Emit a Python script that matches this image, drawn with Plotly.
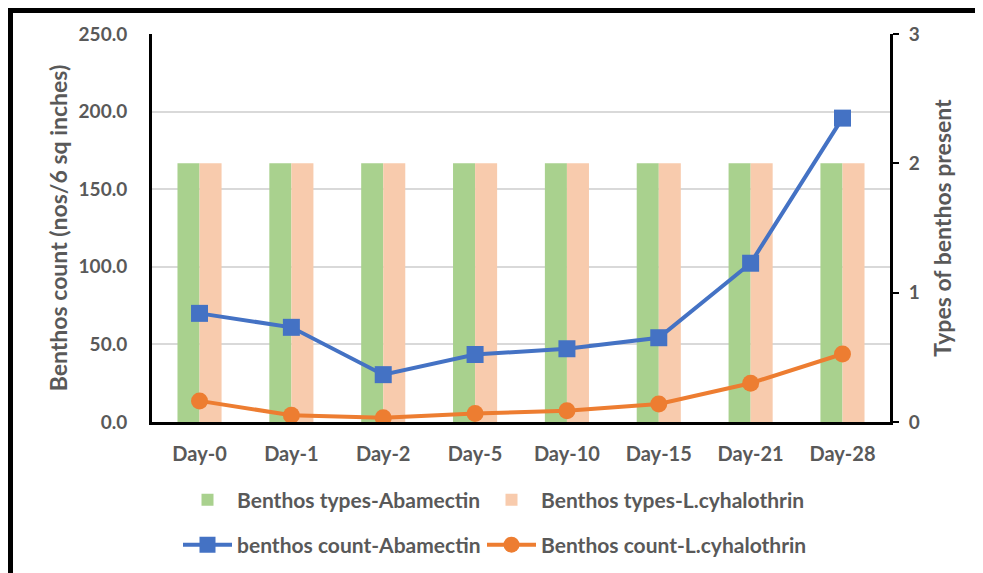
import plotly.graph_objects as go

categories = ["Day-0", "Day-1", "Day-2", "Day-5", "Day-10", "Day-15", "Day-21", "Day-28"]
types_abamectin = [2, 2, 2, 2, 2, 2, 2, 2]
types_lcyhalothrin = [2, 2, 2, 2, 2, 2, 2, 2]
count_abamectin = [70.0, 61.0, 30.5, 43.5, 47.2, 54.3, 102.3, 195.8]
count_lcyhalothrin = [13.6, 4.4, 2.7, 5.5, 7.3, 11.6, 25.0, 43.8]
left_ticks = [0, 50, 100, 150, 200, 250]
right_ticks = [0, 1, 2, 3]

GRAY = "#595959"
FONT = "Lato"

# page body has an 8px margin: figure origin sits at (8, 8) on screen
OFF = 8
W, H = 983 - OFF, 573 - OFF
L, R, T, B = 152 - OFF, W - (890 - OFF), 34 - OFF, H - (422 - OFF)
pw, ph = W - L - R, H - T - B

def px(x):
    return (x - OFF - L) / pw

def py(y):
    return (H - B - (y - OFF)) / ph

fig = go.Figure()
fig.add_trace(go.Bar(x=categories, y=types_abamectin, name="Benthos types-Abamectin",
                     marker=dict(color="#A9D18E", line=dict(width=0)), yaxis="y", legend="legend"))
fig.add_trace(go.Bar(x=categories, y=types_lcyhalothrin, name="Benthos types-L.cyhalothrin",
                     marker=dict(color="#F8CBAD", line=dict(width=0)), yaxis="y", legend="legend2"))
fig.add_trace(go.Scatter(x=categories, y=count_abamectin, name="benthos count-Abamectin",
                         mode="lines+markers", line=dict(color="#4472C4", width=4),
                         marker=dict(symbol="square", size=17, color="#4472C4"),
                         yaxis="y2", legend="legend3"))
fig.add_trace(go.Scatter(x=categories, y=count_lcyhalothrin, name="Benthos count-L.cyhalothrin",
                         mode="lines+markers", line=dict(color="#ED7D31", width=4),
                         marker=dict(symbol="circle", size=17, color="#ED7D31"),
                         yaxis="y2", legend="legend4"))

legend_common = dict(orientation="h", xanchor="left", yanchor="middle",
                     font=dict(family=FONT, size=21, color=GRAY, weight="bold"),
                     itemwidth=49, bgcolor="rgba(0,0,0,0)", itemclick=False, visible=True)

tickfont = dict(family=FONT, size=19, color=GRAY, weight="bold")
titlefont = dict(family=FONT, size=23, color=GRAY, weight="bold")

fig.update_layout(
    width=W, height=H,
    margin=dict(l=L, r=R, t=T, b=B, autoexpand=False),
    paper_bgcolor="white", plot_bgcolor="white",
    showlegend=True,
    barmode="group", bargap=0.52, bargroupgap=0,
    font=dict(family=FONT, color=GRAY),
    xaxis=dict(showline=True, linecolor="black", linewidth=3, ticks="",
               tickfont=dict(family=FONT, size=20, color=GRAY, weight="bold"),
               ticklabelstandoff=12, showgrid=False, automargin=False),
    yaxis=dict(side="right", range=[0, 3], tickvals=right_ticks, showgrid=False, zeroline=False,
               showline=True, linecolor="black", linewidth=3,
               ticks="outside", ticklen=6, tickwidth=2, tickcolor="black",
               tickfont=tickfont, ticklabelstandoff=6, automargin=False,
               title=dict(text="Types of benthos present", standoff=17, font=titlefont)),
    yaxis2=dict(overlaying="y", side="left", range=[0, 250], tickvals=left_ticks,
                tickformat=".1f", showgrid=True, gridcolor="#D9D9D9", gridwidth=1.5,
                zeroline=False, showline=True, linecolor="black", linewidth=3, ticks="",
                tickfont=tickfont, ticklabelstandoff=18, automargin=False,
                title=dict(text="Benthos count (nos/6 sq inches)", standoff=5, font=titlefont)),
    legend=dict(x=px(178), y=py(500), **legend_common),
    legend2=dict(x=px(482), y=py(500), **legend_common),
    legend3=dict(x=px(178), y=py(545), **legend_common),
    legend4=dict(x=px(482), y=py(545), **legend_common),
    shapes=[dict(type="rect", xref="paper", yref="paper",
                 x0=px(10.5), x1=px(1400), y0=py(900), y1=py(10.5),
                 line=dict(color="black", width=5), fillcolor="rgba(0,0,0,0)", layer="above")],
)

fig.write_html("out.html")
